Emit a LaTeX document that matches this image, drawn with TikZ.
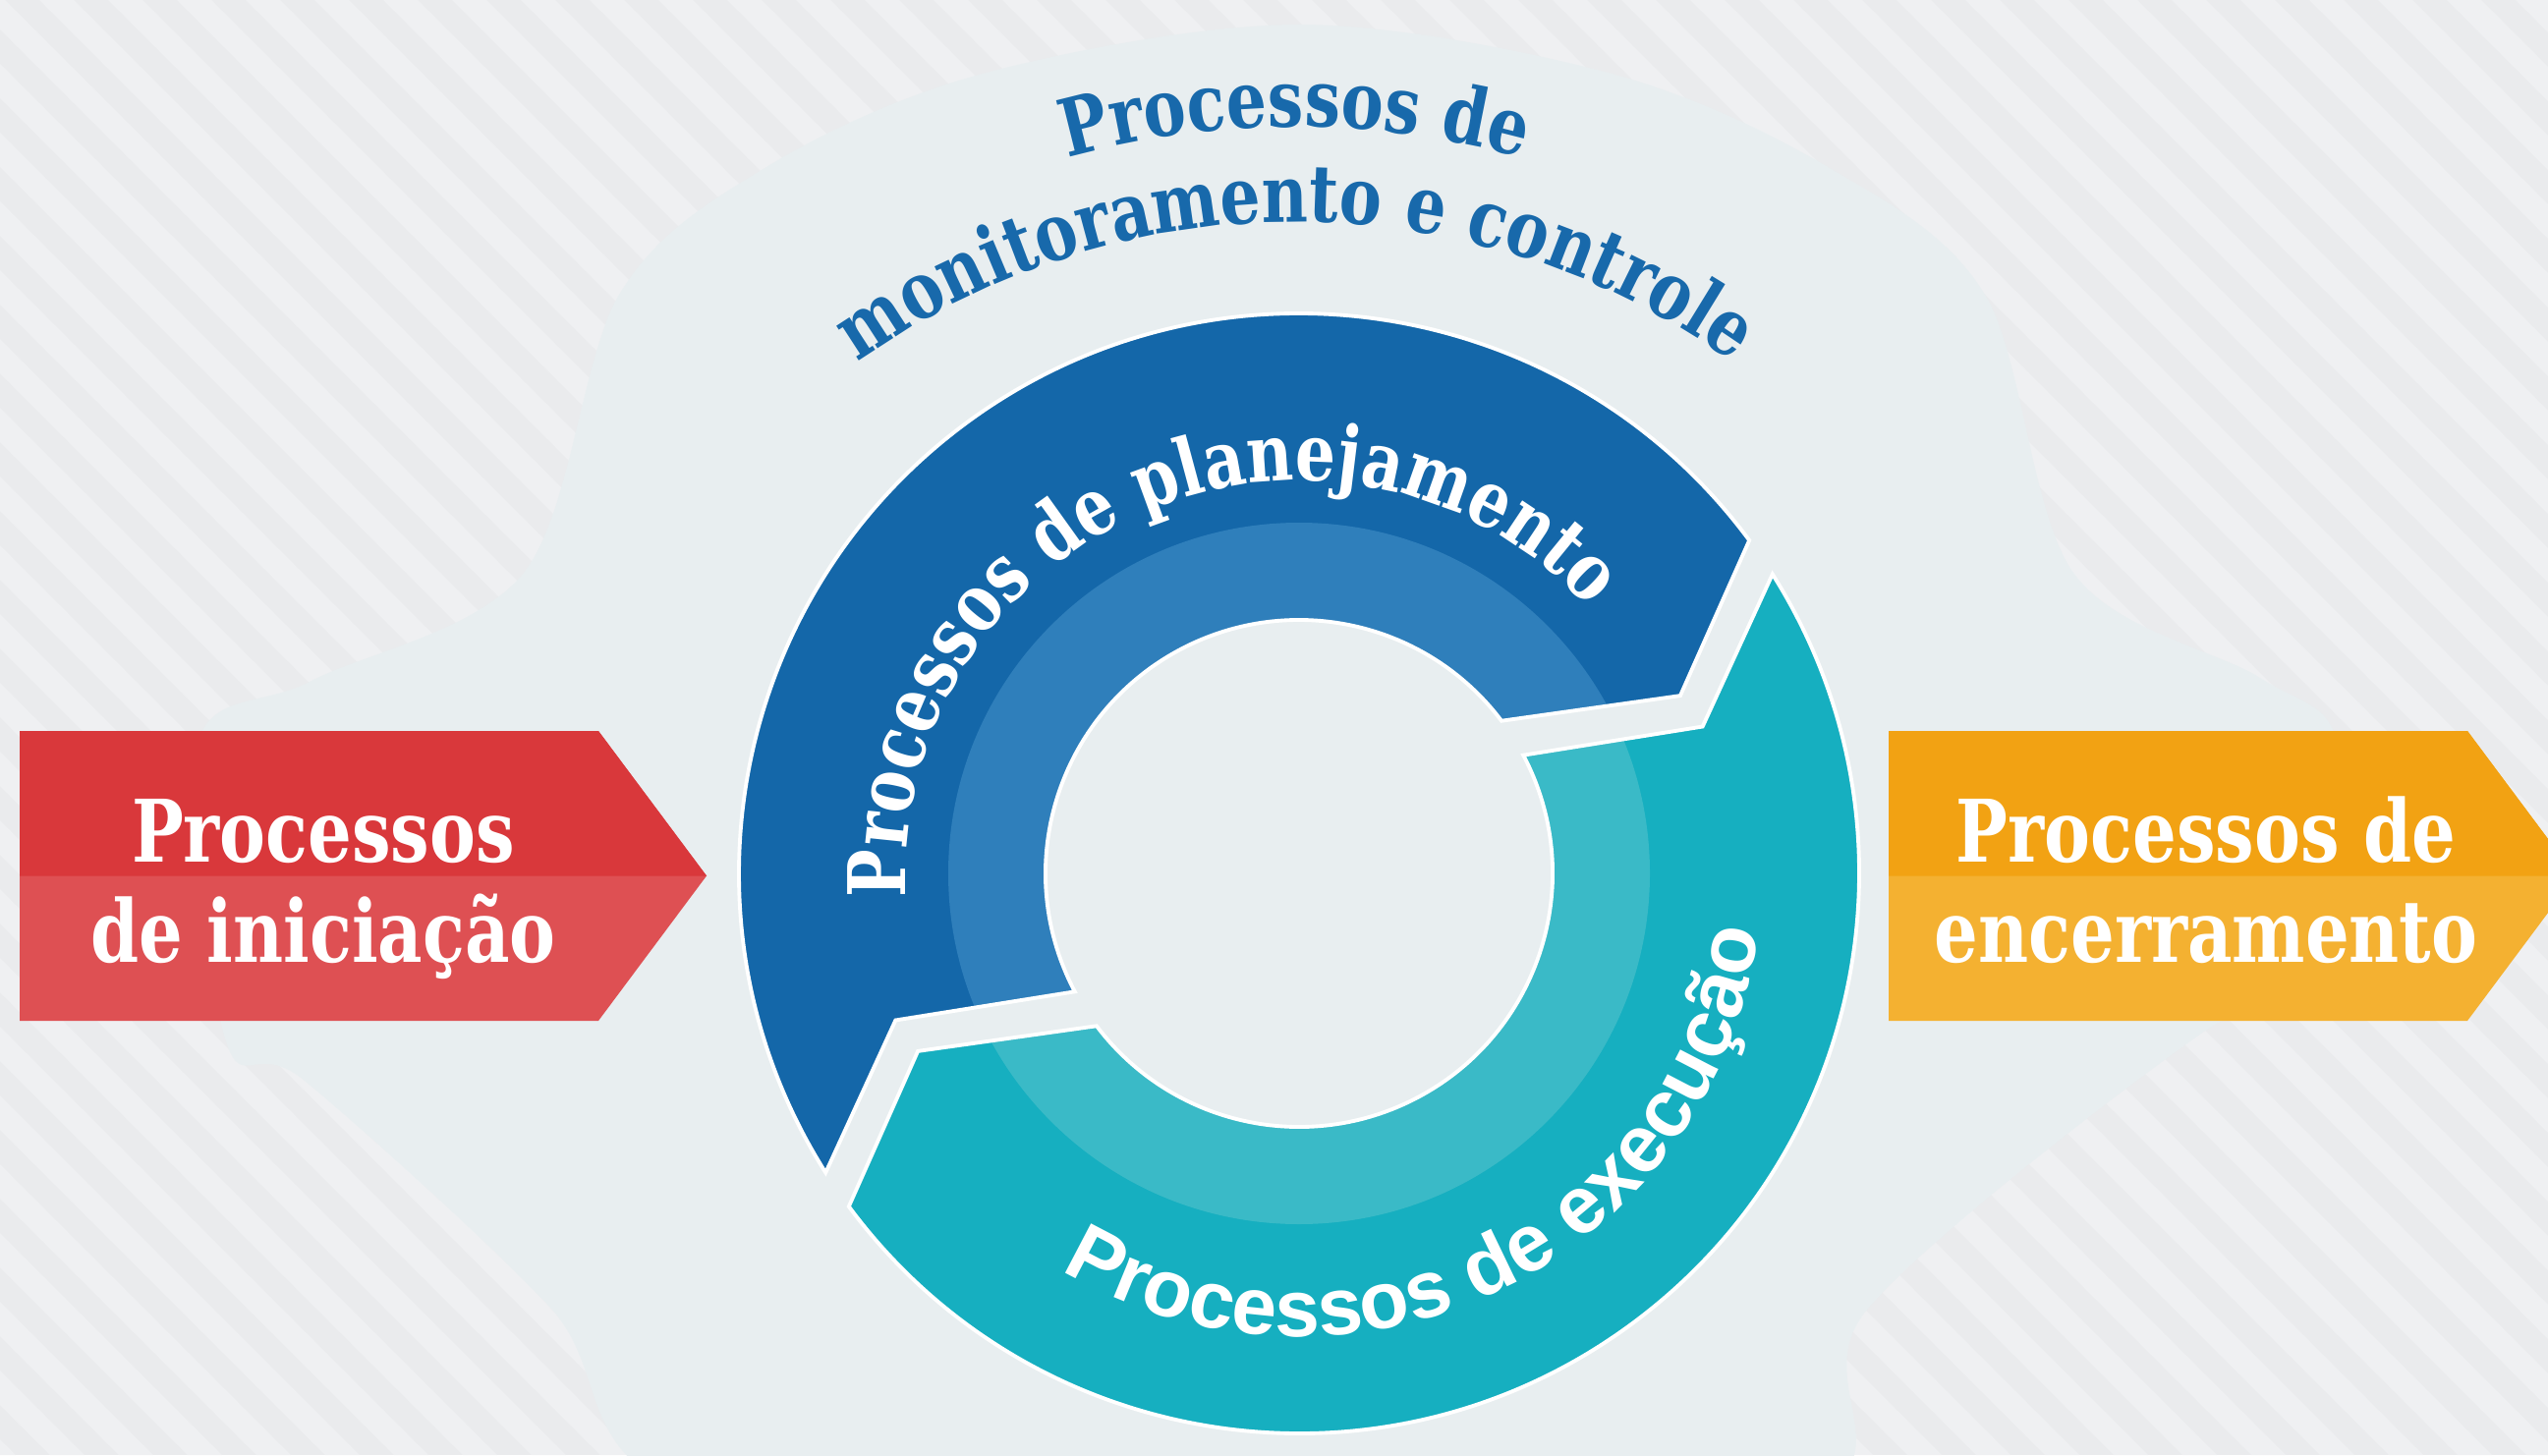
\documentclass[tikz,border=0pt]{standalone}
\usepackage{fontspec}
\usetikzlibrary{decorations.text}
\newfontfamily\slab[FakeStretch=0.8]{DejaVu Serif}
\newfontfamily\sansb{Liberation Sans}
\definecolor{bgc}{HTML}{EAEBED}
\definecolor{stripec}{HTML}{EFF0F2}
\definecolor{blobc}{HTML}{E8EEF0}
\definecolor{blueD}{HTML}{1467A9}
\definecolor{blueL}{HTML}{2F7FBB}
\definecolor{tealD}{HTML}{16AFC0}
\definecolor{tealL}{HTML}{3ABAC7}
\definecolor{redT}{HTML}{D9383B}
\definecolor{redB}{HTML}{DE5053}
\definecolor{orT}{HTML}{F2A213}
\definecolor{orB}{HTML}{F4B131}
\definecolor{titleblue}{HTML}{1869AB}
\tikzset{
  boxtext/.style={text=white, inner sep=0pt, anchor=base, font=\slab\bfseries\fontsize{25}{30}\selectfont},
  edgeline/.style={draw=white, line width=1.1pt, line join=miter}
}
\begin{document}
\begin{tikzpicture}[x=0.1mm,y=0.1mm]
\useasboundingbox (0,0) rectangle (2593,1481);
% background with faint stripes
\fill[bgc] (0,0) rectangle (2593,1481);
\begin{scope}
  \clip (0,0) rectangle (2593,1481);
  \foreach \i in {-1500,-1430,...,2700}
    \fill[stripec] (\i,1481) -- ++(35,0) -- ++(1481,-1481) -- ++(-35,0) -- cycle;
\end{scope}
% light blob behind the cycle
\fill[blobc] plot[smooth cycle, tension=0.55] coordinates {
  (1322,1456) (1000,1406) (780,1311) (630,1181) (533,898) (317,788)
  (200,721) (230,421) (310,381) (560,150) (700,-40) (1322,-150) (1850,-40)
  (1900,148) (2243,431) (2380,481) (2380,721) (2300,791) (2110,898)
  (2020,1181) (1860,1311) (1640,1406)};
% ring arrows
\begin{scope}[shift={(1322,592)}]
  % planning (blue)
  \fill[blueD] (36.5:570) arc[start angle=36.5, end angle=212.3, radius=570]
     -- (200:437) -- (207.8:258) arc[start angle=207.8, end angle=37, radius=258]
     -- (25:428) -- cycle;
  \begin{scope}
    \clip (36.5:570) arc[start angle=36.5, end angle=212.3, radius=570]
     -- (200:437) -- (207.8:258) arc[start angle=207.8, end angle=37, radius=258]
     -- (25:428) -- cycle;
    \fill[blueL, even odd rule] (0,0) circle[radius=357] (0,0) circle[radius=258];
  \end{scope}
  \path[edgeline] (36.5:570) arc[start angle=36.5, end angle=212.3, radius=570]
     -- (200:437) -- (207.8:258) arc[start angle=207.8, end angle=37, radius=258]
     -- (25:428) -- cycle;
  % execution (teal)
  \begin{scope}[rotate=180]
    \fill[tealD] (36.5:570) arc[start angle=36.5, end angle=212.3, radius=570]
       -- (200:437) -- (207.8:258) arc[start angle=207.8, end angle=37, radius=258]
       -- (25:428) -- cycle;
    \begin{scope}
      \clip (36.5:570) arc[start angle=36.5, end angle=212.3, radius=570]
       -- (200:437) -- (207.8:258) arc[start angle=207.8, end angle=37, radius=258]
       -- (25:428) -- cycle;
      \fill[tealL, even odd rule] (0,0) circle[radius=357] (0,0) circle[radius=258];
    \end{scope}
    \path[edgeline] (36.5:570) arc[start angle=36.5, end angle=212.3, radius=570]
       -- (200:437) -- (207.8:258) arc[start angle=207.8, end angle=37, radius=258]
       -- (25:428) -- cycle;
  \end{scope}
  % texts on the ring
  \path[decorate, decoration={text along path,
      text={|\slab\bfseries\fontsize{23}{27}\selectfont|Processos de planejamento},
      text color=white, text align=center}]
    (212:400) arc[start angle=212, end angle=14, radius=400];
  \path[decorate, decoration={text along path,
      text={|\sansb\bfseries\fontsize{23.5}{28}\selectfont|Processos de execução},
      text color=white, text align=center}]
    (198:471) arc[start angle=198, end angle=394, radius=471];
\end{scope}
% top curved title
\begin{scope}[shift={(1318,490)}]
  \path[decorate, decoration={text along path,
      text={|\slab\bfseries\fontsize{23}{27}\selectfont|Processos de},
      text color=titleblue, text align=center}]
    (140:862) arc[start angle=140, end angle=40, radius=862];
  \path[decorate, decoration={text along path,
      text={|\slab\bfseries\fontsize{23}{27}\selectfont|monitoramento e controle},
      text color=titleblue, text align=center}]
    (150:765) arc[start angle=150, end angle=30, radius=765];
\end{scope}
% initiation box
\fill[redB] (20,442) -- (609,442) -- (719,589.5) -- (609,737) -- (20,737) -- cycle;
\fill[redT] (20,589.5) -- (719,589.5) -- (609,737) -- (20,737) -- cycle;
\node[boxtext] (ini1) at (329,604) {Processos};
\node[boxtext] (ini2) at (329,502) {de iniciação};
% closing box
\fill[orB] (1922,442) -- (2511,442) -- (2621,589.5) -- (2511,737) -- (1922,737) -- cycle;
\fill[orT] (1922,589.5) -- (2621,589.5) -- (2511,737) -- (1922,737) -- cycle;
\node[boxtext] (enc1) at (2245,604) {Processos de};
\node[boxtext] (enc2) at (2245,502) {encerramento};
\end{tikzpicture}
\end{document}
